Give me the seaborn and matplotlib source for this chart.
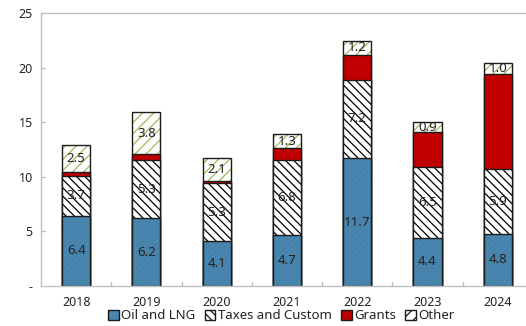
import matplotlib
matplotlib.use("Agg")
import matplotlib.pyplot as plt
import seaborn as sns
import numpy as np
import pandas as pd
from matplotlib.patches import Patch

years = ["2018", "2019", "2020", "2021", "2022", "2023", "2024"]
oil = [6.4, 6.2, 4.1, 4.7, 11.7, 4.4, 4.8]
taxes = [3.7, 5.3, 5.3, 6.8, 7.2, 6.5, 5.9]
grants = [0.3, 0.6, 0.2, 1.1, 2.3, 3.2, 8.7]
other = [2.5, 3.8, 2.1, 1.3, 1.2, 0.9, 1.0]
series_names = ["Oil and LNG", "Taxes and Custom", "Grants", "Other"]

sns.set_theme(style="white")
plt.rcParams["font.family"] = ["Noto Sans", "DejaVu Sans"]
plt.rcParams["hatch.linewidth"] = 0.9

fig = plt.figure(figsize=(5.26, 3.26), dpi=100)
ax = fig.add_axes([0.078, 0.123, 0.935, 0.837])

layers = [oil, taxes, grants, other]
cum = np.cumsum(np.array(layers), axis=0)

styles = [
    dict(face="#4A86AE", hatch="//////", hcol="#4380AA"),
    dict(face="white", hatch="\\\\\\\\", hcol="black"),
    dict(face="#C00000", hatch=None, hcol="#C00000"),
    dict(face="white", hatch="///", hcol="#9BBB59"),
]

width = 0.4
# draw cumulative totals from top layer down so lower layers cover upper ones
for i in range(3, -1, -1):
    df = pd.DataFrame({"year": years, "val": cum[i]})
    st = styles[i]
    n_before = len(ax.patches)
    sns.barplot(data=df, x="year", y="val", ax=ax, color=st["face"],
                width=width, saturation=1, linewidth=0,
                edgecolor=st["hcol"], hatch=st["hatch"])
    new = ax.patches[n_before:]
    for p in new:
        p.set_facecolor(st["face"])
        p.set_edgecolor(st["hcol"])
        p.set_linewidth(0)
    sns.barplot(data=df, x="year", y="val", ax=ax, fill=False,
                width=width, linewidth=1.0, edgecolor="#1a1a1a")

# value labels
for j in range(len(years)):
    for i, vals in enumerate(layers):
        if i == 2:
            continue
        base = cum[i][j] - vals[j]
        ax.text(j, base + vals[j] / 2, f"{vals[j]:.1f}", ha="center", va="center",
                fontsize=9.5, color="#222222")

ax.set_ylim(0, 25)
ax.set_xlim(-0.5, 6.5)
ax.set_yticks([0, 5, 10, 15, 20, 25])
ax.set_yticklabels(["-", "5", "10", "15", "20", "25"])
ax.set_xlabel("")
ax.set_ylabel("")
ax.tick_params(axis="both", labelsize=9, colors="#222222", length=0, pad=6)
ax.tick_params(axis="x", pad=7)
for s in ["top", "left", "bottom", "right"]:
    ax.spines[s].set_visible(True)
    ax.spines[s].set_color("#BFBFBF")
    ax.spines[s].set_linewidth(1.0)
for y in [5, 10, 15, 20]:
    ax.plot([-0.5, -0.45], [y, y], color="#BFBFBF", lw=1, clip_on=False)
for x in np.arange(0.5, 6.5, 1.0):
    ax.plot([x, x], [0, 0.35], color="#BFBFBF", lw=1, clip_on=False)

handles = [Patch(facecolor=styles[i]["face"], edgecolor="#1a1a1a",
                 hatch=styles[i]["hatch"] if i != 0 else None, label=series_names[i])
           for i in range(4)]
leg = fig.legend(handles=handles, loc="lower center", bbox_to_anchor=(0.535, -0.025),
                 ncol=4, frameon=False, fontsize=9.5, handlelength=0.8, handleheight=0.8,
                 handletextpad=0.2, columnspacing=0.7)
for t in leg.get_texts():
    t.set_color("#222222")

fig.savefig("out.png", dpi=100)
